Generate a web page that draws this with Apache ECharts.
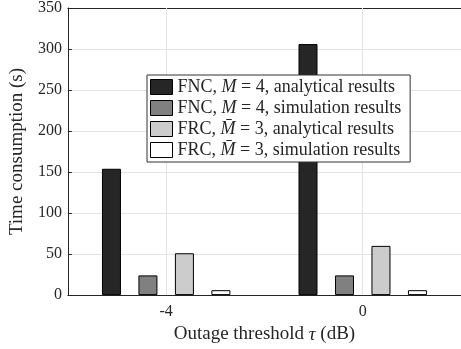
<!DOCTYPE html>
<html>
<head>
    <meta charset="utf-8">
    <style>
        html, body {
            height: 100%;
            margin: 0;
            padding: 0;
            background: #fff;
        }

        .container {
            width: 461px;
            height: 349px;
        }
    </style>
</head>
<body>
<div id="main" class="container"></div>

<script src="https://cdn.jsdelivr.net/npm/echarts@6/dist/echarts.min.js"></script>
<script type="text/javascript">
// outage threshold categories (dB)
var thresholds = ['-4', '0'];
var yTicks = [0, 50, 100, 150, 200, 250, 300, 350];

// time consumption (s)
var fncAnalytical = [154, 306];
var fncSimulation = [24, 24];
var frcAnalytical = [51, 60];
var frcSimulation = [6, 6];

var seriesNames = ['fncA', 'fncS', 'frcA', 'frcS'];
var legendTexts = {
    fncA: '{n|FNC, }{i|M}{n| = 4, analytical results}',
    fncS: '{n|FNC, }{i|M}{n| = 4, simulation results}',
    frcA: '{n|FRC, }{i|M\u0304}{n| = 3, analytical results}',
    frcS: '{n|FRC, }{i|M\u0304}{n| = 3, simulation results}'
};

var textColor = '#262626';
var gridColor = '#e3e3e3';
var font = 'Liberation Serif';

function createChart() {
    var myChart = echarts.init(document.getElementById('main'));

    function barSeries(name, data, color) {
        return {
            name: name,
            type: 'bar',
            data: data,
            barWidth: 19,
            barGap: '92%',
            itemStyle: {color: color, borderColor: '#000', borderWidth: 1},
            emphasis: {disabled: true}
        };
    }

    var series = [
        barSeries('fncA', fncAnalytical, '#262626'),
        barSeries('fncS', fncSimulation, '#808080'),
        barSeries('frcA', frcAnalytical, '#cccccc'),
        barSeries('frcS', frcSimulation, '#ffffff'),
        {
            // vertical grid lines at the x ticks
            name: 'xgrid',
            type: 'line',
            data: [],
            z: 1,
            silent: true,
            markLine: {
                silent: true,
                symbol: 'none',
                label: {show: false},
                lineStyle: {color: gridColor, width: 1, type: 'solid'},
                data: thresholds.map(function (t) { return {xAxis: t}; })
            }
        }
    ];

    var option = {
        animation: false,
        textStyle: {fontFamily: font},
        grid: {left: 64, top: 4, right: -5, bottom: 53},
        legend: {
            data: seriesNames,
            z: 20,
            icon: 'rect',
            orient: 'vertical',
            left: 147,
            top: 75,
            itemWidth: 22,
            itemHeight: 15,
            itemGap: 3,
            padding: [3, 9, 3, 3],
            backgroundColor: '#fff',
            borderColor: '#333',
            borderWidth: 1,
            selectedMode: false,
            itemStyle: {borderColor: '#000', borderWidth: 1},
            formatter: function (name) { return legendTexts[name]; },
            textStyle: {
                rich: {
                    n: {fontFamily: font, fontSize: 18, lineHeight: 18, color: textColor},
                    i: {fontFamily: font, fontSize: 18, lineHeight: 18, fontStyle: 'italic', color: textColor}
                }
            }
        },
        xAxis: [{
            type: 'category',
            data: thresholds,
            position: 'bottom',
            axisLine: {lineStyle: {color: textColor, width: 1}},
            axisTick: {inside: true, length: 4, alignWithLabel: true, lineStyle: {color: textColor}},
            axisLabel: {fontFamily: font, fontSize: 16, color: textColor, margin: 9},
            splitLine: {show: false},
            name: '{n|Outage threshold }{i|\u03c4}{n| (dB)}',
            nameLocation: 'middle',
            nameGap: 25,
            nameTextStyle: {
                rich: {
                    n: {fontFamily: font, fontSize: 19, color: textColor},
                    i: {fontFamily: font, fontSize: 19, fontStyle: 'italic', color: textColor}
                }
            }
        }, {
            type: 'category',
            data: thresholds,
            position: 'top',
            axisLine: {lineStyle: {color: textColor, width: 1}},
            axisTick: {inside: true, length: 4, alignWithLabel: true, lineStyle: {color: textColor}},
            axisLabel: {show: false},
            splitLine: {show: false}
        }],
        yAxis: {
            type: 'value',
            min: yTicks[0],
            max: yTicks[yTicks.length - 1],
            interval: yTicks[1] - yTicks[0],
            axisLine: {show: true, lineStyle: {color: textColor, width: 1}},
            axisTick: {show: true, inside: true, length: 4, lineStyle: {color: textColor}},
            axisLabel: {fontFamily: font, fontSize: 16, color: textColor, margin: 6},
            splitLine: {lineStyle: {color: gridColor, width: 1}},
            name: 'Time consumption (s)',
            nameLocation: 'middle',
            nameGap: 36,
            nameTextStyle: {fontFamily: font, fontSize: 19, color: textColor}
        },
        series: series
    };

    myChart.setOption(option);
}

createChart();
</script>
</body>
</html>
